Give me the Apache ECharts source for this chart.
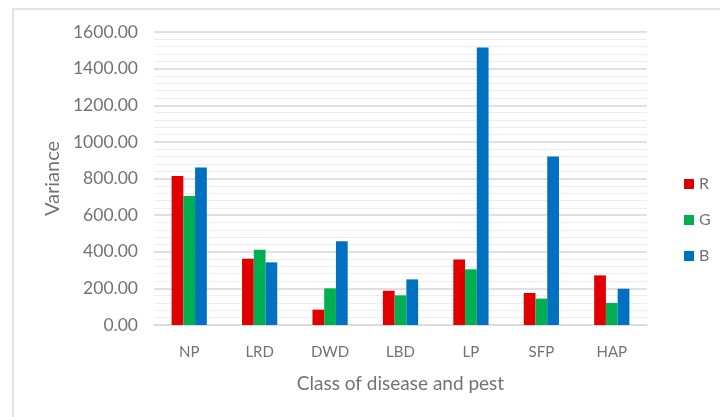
<!DOCTYPE html>
<html><head><meta charset="utf-8">
<script src="https://cdn.jsdelivr.net/npm/echarts@6/dist/echarts.min.js"></script>
<style>html,body{margin:0;padding:0;background:#fff}#c{width:720px;height:417px}</style>
</head><body><div id="c"></div>
<script>
var categories = ['NP','LRD','DWD','LBD','LP','SFP','HAP'];
var seriesR = [813, 362, 84, 187, 358, 175, 271];
var seriesG = [705, 411, 200, 162, 304, 144, 120];
var seriesB = [860, 342, 458, 249, 1515, 920, 198];
var yTicks = {min: 0, max: 1600, interval: 200};

var chart = echarts.init(document.getElementById('c'));
var txt = '#737373';
var font = 'Lato';
function bar(name, data, color){
  return {name: name, type: 'bar', data: data, barGap: '0%', barCategoryGap: '50%',
    itemStyle: {color: color}};
}
chart.setOption({
  animation: false,
  textStyle: {fontFamily: font},
  graphic: [{type: 'rect', shape: {x: 13, y: 9, width: 720, height: 420},
    style: {fill: 'none', stroke: '#d9d9d9', lineWidth: 1.5}, silent: true}],
  grid: {left: 154, right: 73, top: 32, bottom: 92},
  legend: {orient: 'vertical', left: 679, top: 171, itemWidth: 10, itemHeight: 10, itemGap: 20,
    icon: 'rect', textStyle: {color: txt, fontSize: 16, fontFamily: font}, data: ['R','G','B']},
  xAxis: {type: 'category', data: categories,
    axisLine: {lineStyle: {color: '#d9d9d9', width: 1.5}}, axisTick: {show: false},
    axisLabel: {color: txt, fontSize: 15, margin: 20},
    name: 'Class of disease and pest', nameLocation: 'middle', nameGap: 49,
    nameTextStyle: {color: txt, fontSize: 19}},
  yAxis: {type: 'value', min: yTicks.min, max: yTicks.max, interval: yTicks.interval,
    axisLabel: {color: txt, fontSize: 17.5, margin: 16, formatter: function(v){return v.toFixed(2);}},
    axisLine: {show: false}, axisTick: {show: false},
    splitLine: {lineStyle: {color: '#d6d6d6', width: 1.5}},
    minorTick: {show: false, splitNumber: 5},
    minorSplitLine: {show: true, lineStyle: {color: '#ededed', width: 1.2}},
    name: 'Variance', nameLocation: 'middle', nameGap: 88, nameRotate: 90,
    nameTextStyle: {color: txt, fontSize: 20}},
  series: [bar('R', seriesR, '#E00000'), bar('G', seriesG, '#00B050'), bar('B', seriesB, '#0070C0')]
});
</script></body></html>
